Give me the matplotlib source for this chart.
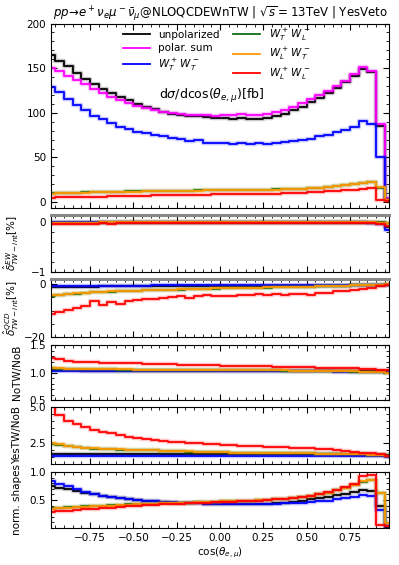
import matplotlib
matplotlib.use('Agg')
import matplotlib.pyplot as plt
import numpy as np
from matplotlib.ticker import AutoMinorLocator, MultipleLocator

# bin centres of cos(theta_e,mu), 40 bins of width 0.05
cos_bins = np.arange(-0.975, 1.0, 0.05)

# --- d sigma / d cos [fb]
xs_unpol = [165, 158, 152, 145, 138, 132, 127, 122, 118, 114, 110, 107, 104, 101, 99, 97, 96, 96, 95, 94,
            94, 93.5, 94, 93.5, 93.5, 94, 96, 99, 103, 107, 112, 117, 122, 128, 134, 141, 149, 145.5, 85, 3]
xs_polsum = [150, 146.5, 141.5, 137, 132, 126.5, 122, 118, 114.5, 111, 108, 105, 103, 101, 99.5, 98.5, 97.5, 97, 97.5, 96.5,
             97.5, 97.5, 98.5, 97.5, 98, 98.5, 100.5, 103, 107, 111, 115, 120, 125, 130, 136, 143.5, 151, 147, 87, 4]
xs_TT = [128.5, 123, 115, 108.5, 103, 96.5, 93, 88.5, 84.5, 81.5, 78.5, 77, 75, 73.5, 72, 70.5, 68.5, 69.5, 66, 66.5,
         66, 65.5, 66.5, 65.5, 66.5, 64.5, 66, 67, 68.5, 69.5, 71, 73.5, 75.5, 78, 81, 84.5, 90.5, 87.5, 51, 2]
xs_TL = [9.8, 10.1, 10.4, 10.6, 10.9, 11.1, 11.3, 11.5, 11.7, 11.9, 12.0, 12.2, 12.3, 12.5, 12.6, 12.7, 12.9, 13.0, 13.1, 13.2,
         13.3, 13.4, 13.5, 13.6, 13.7, 13.9, 14.1, 14.4, 14.8, 15.2, 15.7, 16.3, 17.1, 18.0, 19.1, 20.4, 21.6, 22.0, 16.0, 2.4]
xs_LT = [9.5, 9.8, 10.1, 10.3, 10.6, 10.8, 11.0, 11.2, 11.4, 11.6, 11.8, 12.0, 12.1, 12.3, 12.4, 12.6, 12.7, 12.9, 13.0, 13.1,
         13.2, 13.3, 13.4, 13.5, 13.6, 13.8, 14.0, 14.3, 14.7, 15.1, 15.6, 16.2, 17.0, 17.9, 19.0, 20.3, 21.8, 22.5, 16.5, 2.5]
xs_LL = [4.9, 5.2, 5.4, 5.6, 5.8, 6.0, 6.2, 6.4, 6.6, 6.8, 7.0, 7.2, 7.4, 7.6, 7.8, 8.0, 8.1, 8.3, 8.4, 8.5,
         8.6, 8.7, 8.8, 8.9, 9.0, 9.2, 9.4, 9.7, 10.0, 10.4, 10.8, 11.3, 11.9, 12.5, 13.2, 14.0, 14.9, 15.4, 2.5, 1.0]

# --- EW TW-interference [%]
ew_unpol = [-0.03, -0.03, -0.02, -0.02, -0.02, -0.02, -0.02, -0.02, -0.02, -0.02, -0.02, -0.02, -0.02, -0.02, -0.02, -0.02, -0.02, -0.02, -0.02, -0.02,
            -0.02, -0.02, -0.02, -0.02, -0.02, -0.02, -0.02, -0.02, -0.02, -0.02, -0.02, -0.02, -0.02, -0.02, -0.02, -0.02, -0.02, -0.02, -0.03, -0.10]
ew_TT = [-0.01, -0.01, -0.01, -0.01, -0.01, -0.01, -0.01, -0.01, -0.01, -0.01, -0.01, -0.01, -0.01, -0.01, -0.01, -0.01, -0.01, -0.01, -0.01, -0.01,
         -0.01, -0.01, -0.01, -0.01, -0.01, -0.01, -0.01, -0.01, -0.01, -0.01, -0.01, -0.01, -0.01, -0.01, -0.01, -0.01, -0.01, -0.02, -0.05, -0.16]
ew_TL = [-0.02, -0.02, -0.02, -0.02, -0.02, -0.02, -0.01, -0.01, -0.01, -0.01, -0.01, -0.01, -0.01, -0.01, -0.01, -0.01, -0.01, -0.01, -0.01, -0.01,
         -0.01, -0.01, -0.01, -0.01, -0.01, -0.01, -0.01, -0.01, -0.01, -0.01, -0.01, -0.01, -0.01, -0.01, -0.01, -0.01, -0.01, -0.01, -0.01, -0.02]
ew_LT = [-0.02, -0.02, -0.02, -0.02, -0.02, -0.02, -0.01, -0.01, -0.01, -0.01, -0.01, -0.01, -0.01, -0.01, -0.01, -0.01, -0.01, -0.01, -0.01, -0.01,
         -0.01, -0.01, -0.01, -0.01, -0.01, -0.01, -0.01, -0.01, -0.01, -0.01, -0.01, -0.01, -0.01, -0.01, -0.01, -0.01, -0.01, -0.01, -0.02, -0.03]
ew_LL = [-0.05, -0.05, -0.04, -0.04, -0.04, -0.04, -0.03, -0.05, -0.03, -0.03, -0.03, -0.03, -0.03, -0.03, -0.03, -0.03, -0.03, -0.03, -0.03, -0.03,
         -0.03, -0.03, -0.03, -0.03, -0.03, -0.03, -0.03, -0.03, -0.03, -0.03, -0.03, -0.03, -0.03, -0.03, -0.03, -0.03, -0.03, -0.03, -0.05, -0.08]

# --- QCD TW-interference [%]
qcd_unpol = [-0.9, -0.9, -0.9, -0.9, -0.9, -0.9, -0.8, -0.8, -0.8, -0.8, -0.8, -0.8, -0.8, -0.7, -0.7, -0.7, -0.7, -0.7, -0.7, -0.7,
             -0.7, -0.6, -0.6, -0.6, -0.6, -0.6, -0.6, -0.6, -0.6, -0.5, -0.5, -0.5, -0.5, -0.5, -0.5, -0.4, -0.4, -0.4, -0.3, -0.2]
qcd_TT = [-0.5, -0.5, -0.5, -0.5, -0.5, -0.5, -0.5, -0.5, -0.5, -0.5, -0.5, -0.5, -0.4, -0.4, -0.4, -0.4, -0.4, -0.4, -0.4, -0.4,
          -0.4, -0.4, -0.4, -0.4, -0.4, -0.4, -0.4, -0.3, -0.3, -0.3, -0.3, -0.3, -0.3, -0.3, -0.3, -0.2, -0.2, -0.2, -0.2, -0.1]
qcd_TL = [-4.6, -4.2, -3.8, -3.5, -3.3, -3.1, -2.9, -2.8, -2.6, -2.5, -2.4, -2.3, -2.2, -2.1, -2.0, -2.0, -1.9, -1.8, -1.7, -1.7,
          -1.6, -1.5, -1.5, -1.4, -1.3, -1.3, -1.2, -1.1, -1.0, -1.0, -0.9, -0.8, -0.7, -0.6, -0.5, -0.4, -0.4, -0.3, -0.1, 0.1]
qcd_LT = [-4.2, -3.9, -3.6, -3.4, -3.2, -3.0, -2.8, -2.7, -2.6, -2.5, -2.4, -2.3, -2.2, -2.1, -2.0, -1.9, -1.8, -1.8, -1.7, -1.6,
          -1.6, -1.5, -1.4, -1.4, -1.3, -1.2, -1.2, -1.1, -1.0, -0.9, -0.9, -0.8, -0.7, -0.6, -0.5, -0.4, -0.3, -0.3, -0.1, 0.2]
qcd_LL = [-11.1, -10.4, -9.8, -8.9, -8.3, -6.4, -7.7, -6.7, -7.3, -6.3, -6.0, -5.5, -5.5, -5.3, -5.0, -4.5, -5.3, -4.6, -3.9, -4.5,
          -4.5, -4.4, -3.9, -3.9, -3.8, -3.9, -3.8, -4.2, -3.5, -3.5, -3.9, -3.3, -3.2, -2.7, -2.6, -2.0, -1.9, -1.4, -0.7, -0.4]

# --- NoTW / NoB
notw_unpol = [1.04, 1.04, 1.04, 1.04, 1.035, 1.035, 1.035, 1.035, 1.03, 1.03, 1.03, 1.03, 1.03, 1.03, 1.03, 1.03, 1.03, 1.03, 1.03, 1.03,
              1.03, 1.03, 1.03, 1.03, 1.03, 1.03, 1.03, 1.025, 1.025, 1.025, 1.025, 1.025, 1.025, 1.025, 1.02, 1.02, 1.02, 1.02, 1.02, 1.02]
notw_TT = [1.02, 1.02, 1.02, 1.02, 1.02, 1.02, 1.02, 1.02, 1.02, 1.02, 1.02, 1.02, 1.02, 1.02, 1.02, 1.02, 1.02, 1.02, 1.02, 1.02,
           1.02, 1.02, 1.02, 1.02, 1.02, 1.02, 1.02, 1.02, 1.02, 1.02, 1.02, 1.02, 1.02, 1.015, 1.015, 1.015, 1.015, 1.015, 1.01, 1.01]
notw_TL = [1.075, 1.07, 1.066, 1.064, 1.062, 1.06, 1.058, 1.056, 1.054, 1.053, 1.052, 1.051, 1.05, 1.049, 1.048, 1.047, 1.046, 1.046, 1.045, 1.044,
           1.043, 1.042, 1.041, 1.04, 1.039, 1.038, 1.037, 1.035, 1.033, 1.031, 1.029, 1.027, 1.025, 1.022, 1.019, 1.016, 1.013, 1.009, 1.004, 1.0]
notw_LT = [1.08, 1.075, 1.07, 1.068, 1.066, 1.064, 1.062, 1.06, 1.058, 1.056, 1.055, 1.054, 1.053, 1.052, 1.051, 1.05, 1.05, 1.049, 1.048, 1.047,
           1.046, 1.045, 1.044, 1.043, 1.042, 1.041, 1.04, 1.038, 1.036, 1.034, 1.032, 1.03, 1.028, 1.025, 1.022, 1.019, 1.015, 1.01, 1.005, 1.0]
notw_LL = [1.26, 1.24, 1.21, 1.2, 1.19, 1.185, 1.18, 1.175, 1.17, 1.17, 1.165, 1.16, 1.155, 1.15, 1.15, 1.145, 1.14, 1.14, 1.135, 1.13,
           1.125, 1.12, 1.12, 1.115, 1.11, 1.11, 1.105, 1.1, 1.1, 1.095, 1.095, 1.09, 1.09, 1.085, 1.08, 1.075, 1.07, 1.06, 1.05, 1.04]

# --- YesTW / NoB
yestw_unpol = [1.7, 1.7, 1.7, 1.7, 1.7, 1.7, 1.7, 1.7, 1.7, 1.7, 1.7, 1.69, 1.69, 1.69, 1.69, 1.69, 1.69, 1.69, 1.69, 1.69,
               1.68, 1.68, 1.68, 1.68, 1.68, 1.68, 1.68, 1.68, 1.68, 1.67, 1.67, 1.67, 1.67, 1.67, 1.66, 1.66, 1.66, 1.66, 1.65, 1.64]
yestw_TT = [1.56, 1.56, 1.56, 1.56, 1.56, 1.56, 1.56, 1.56, 1.56, 1.56, 1.56, 1.56, 1.56, 1.56, 1.56, 1.56, 1.56, 1.56, 1.56, 1.56,
            1.56, 1.56, 1.56, 1.56, 1.56, 1.56, 1.56, 1.56, 1.56, 1.56, 1.55, 1.55, 1.55, 1.55, 1.55, 1.55, 1.54, 1.54, 1.53, 1.52]
yestw_TL = [2.42, 2.36, 2.24, 2.17, 2.12, 2.08, 2.05, 2.03, 2.01, 1.99, 1.98, 1.97, 1.95, 1.93, 1.91, 1.89, 1.87, 1.85, 1.83, 1.82,
            1.81, 1.8, 1.79, 1.78, 1.78, 1.77, 1.76, 1.76, 1.75, 1.74, 1.74, 1.73, 1.72, 1.71, 1.7, 1.69, 1.68, 1.66, 1.62, 1.56]
yestw_LT = [2.45, 2.38, 2.26, 2.19, 2.14, 2.1, 2.07, 2.04, 2.02, 2.0, 1.99, 1.98, 1.96, 1.94, 1.92, 1.9, 1.88, 1.86, 1.84, 1.82,
            1.81, 1.8, 1.79, 1.78, 1.78, 1.77, 1.76, 1.76, 1.75, 1.74, 1.74, 1.73, 1.72, 1.71, 1.7, 1.69, 1.68, 1.66, 1.62, 1.56]
yestw_LL = [5.6, 4.44, 4.04, 3.81, 3.58, 3.39, 3.27, 3.15, 3.04, 2.92, 2.85, 2.75, 2.68, 2.64, 2.56, 2.52, 2.49, 2.45, 2.4, 2.37,
            2.35, 2.32, 2.29, 2.27, 2.25, 2.22, 2.2, 2.17, 2.15, 2.12, 2.1, 2.06, 2.02, 1.98, 1.93, 1.87, 1.8, 1.75, 1.67, 1.56]

# --- normalised shapes
norm_unpol = [0.75, 0.72, 0.69, 0.66, 0.63, 0.6, 0.58, 0.555, 0.54, 0.52, 0.5, 0.49, 0.475, 0.46, 0.45, 0.44, 0.44, 0.44, 0.435, 0.43,
              0.43, 0.43, 0.43, 0.43, 0.43, 0.43, 0.44, 0.455, 0.47, 0.49, 0.51, 0.535, 0.56, 0.585, 0.61, 0.645, 0.68, 0.665, 0.39, 0.015]
norm_TT = [0.84, 0.79, 0.75, 0.7, 0.65, 0.61, 0.58, 0.55, 0.54, 0.52, 0.5, 0.49, 0.48, 0.47, 0.46, 0.45, 0.44, 0.45, 0.43, 0.43,
           0.43, 0.43, 0.43, 0.43, 0.43, 0.42, 0.43, 0.44, 0.45, 0.45, 0.46, 0.48, 0.49, 0.51, 0.53, 0.55, 0.59, 0.57, 0.33, 0.03]
norm_TL = [0.35, 0.36, 0.37, 0.38, 0.385, 0.395, 0.4, 0.405, 0.41, 0.42, 0.425, 0.43, 0.435, 0.44, 0.445, 0.45, 0.455, 0.46, 0.465, 0.47,
           0.475, 0.48, 0.485, 0.49, 0.495, 0.5, 0.51, 0.52, 0.535, 0.55, 0.57, 0.6, 0.63, 0.67, 0.71, 0.76, 0.83, 0.85, 0.62, 0.09]
norm_LT = [0.34, 0.35, 0.36, 0.37, 0.38, 0.39, 0.395, 0.4, 0.41, 0.415, 0.42, 0.43, 0.435, 0.44, 0.445, 0.45, 0.455, 0.46, 0.465, 0.47,
           0.475, 0.48, 0.485, 0.49, 0.495, 0.5, 0.51, 0.52, 0.535, 0.55, 0.57, 0.6, 0.63, 0.67, 0.71, 0.76, 0.84, 0.86, 0.63, 0.09]
norm_LL = [0.29, 0.3, 0.31, 0.32, 0.335, 0.345, 0.355, 0.365, 0.375, 0.385, 0.395, 0.405, 0.41, 0.42, 0.425, 0.43, 0.44, 0.445, 0.45, 0.46,
           0.465, 0.47, 0.475, 0.48, 0.49, 0.5, 0.51, 0.525, 0.54, 0.56, 0.58, 0.61, 0.64, 0.68, 0.73, 0.79, 0.93, 0.94, 0.06, 0.03]

labels = ['unpolarized', 'polar. sum', r'$W^+_T\,W^-_T$', r'$W^+_T\,W^-_L$', r'$W^+_L\,W^-_T$', r'$W^+_L\,W^-_L$']
colors = ['black', '#ff00ff', '#0000ff', '#107010', '#ff9a00', '#ff0000']

panels = [
    [xs_unpol, xs_polsum, xs_TT, xs_TL, xs_LT, xs_LL],
    [ew_unpol, None, ew_TT, ew_TL, ew_LT, ew_LL],
    [qcd_unpol, None, qcd_TT, qcd_TL, qcd_LT, qcd_LL],
    [notw_unpol, None, notw_TT, notw_TL, notw_LT, notw_LL],
    [yestw_unpol, None, yestw_TT, yestw_TL, yestw_LT, yestw_LL],
    [norm_unpol, None, norm_TT, norm_TL, norm_LT, norm_LL],
]

plt.rcParams['font.size'] = 7
plt.rcParams['mathtext.fontset'] = 'dejavusans'

fig = plt.figure(figsize=(3.99, 5.65), dpi=100)
boxes = [
    [0.1278, 0.6313, 0.847, 0.3270],
    [0.1278, 0.5186, 0.847, 0.1009],
    [0.1278, 0.4035, 0.847, 0.1027],
    [0.1278, 0.2920, 0.847, 0.0973],
    [0.1278, 0.1788, 0.847, 0.1009],
    [0.1278, 0.0655, 0.847, 0.0991],
]
axes = [fig.add_axes(b) for b in boxes]

for ax, series in zip(axes, panels):
    for vals, lab, col in zip(series, labels, colors):
        if vals is None:
            continue
        # faint halo under each line, like the error band in the original
        ax.step(cos_bins, vals, where='mid', color=col, lw=3.2, alpha=0.22)
        ax.step(cos_bins, vals, where='mid', color=col, lw=1.3, label=lab)
    ax.set_xlim(-0.975, 0.975)
    ax.xaxis.set_major_locator(MultipleLocator(0.25))
    ax.xaxis.set_minor_locator(MultipleLocator(0.05))
    ax.yaxis.set_minor_locator(AutoMinorLocator())
    ax.tick_params(which='both', direction='in', top=True, right=True, labelsize=7.5)
    ax.tick_params(which='major', length=4)
    ax.tick_params(which='minor', length=2)
    if ax is not axes[-1]:
        ax.tick_params(labelbottom=False)

# main panel
ax = axes[0]
ax.set_ylim(-7, 200)
ax.set_yticks([0, 50, 100, 150, 200])
ax.yaxis.set_minor_locator(MultipleLocator(10))
ax.set_title(r'$pp\!\rightarrow\! e^+\nu_e\mu^-\bar{\nu}_\mu$@NLOQCDEWnTW | $\sqrt{s}=13$TeV | YesVeto',
             fontsize=8.5, pad=3)
ax.legend(ncol=2, frameon=False, fontsize=7.5, loc='upper center', bbox_to_anchor=(0.49, 1.035),
          handlelength=2.6, columnspacing=1.3, labelspacing=0.35)
ax.text(0.475, 0.61, r'd$\sigma$/dcos($\theta_{e,\mu}$)[fb]', transform=ax.transAxes,
        ha='center', va='center', fontsize=9)

# EW interference
ax = axes[1]
ax.set_ylim(-1, 0.13)
ax.set_yticks([-1, 0])
ax.yaxis.set_minor_locator(MultipleLocator(0.2))
ax.set_ylabel(r'$\hat{\delta}^{EW}_{TW-int}$[%]', fontsize=7.5)

# QCD interference
ax = axes[2]
ax.set_ylim(-20, 2)
ax.set_yticks([-20, 0])
ax.yaxis.set_minor_locator(MultipleLocator(5))
ax.set_ylabel(r'$\hat{\delta}^{QCD}_{TW-int}$[%]', fontsize=7.5)

for ax in axes[1:3]:
    ax.spines['top'].set_color('#888888')
    ax.spines['top'].set_linewidth(2.2)
    ax.yaxis.set_label_coords(-0.088, 0.5)

ax = axes[3]
ax.set_ylim(0.5, 1.5)
ax.set_yticks([0.5, 1.0, 1.5])
ax.set_ylabel('NoTW/NoB', fontsize=7.5)

ax = axes[4]
ax.set_ylim(1.0, 5.0)
ax.set_yticks([2.5, 5.0])
ax.yaxis.set_minor_locator(MultipleLocator(0.5))
ax.set_ylabel('YesTW/NoB', fontsize=7.5)

ax = axes[5]
ax.set_ylim(0.0, 1.0)
ax.set_yticks([0.5, 1.0])
ax.yaxis.set_minor_locator(MultipleLocator(0.1))
ax.set_ylabel('norm. shapes', fontsize=7.5)
ax.set_xlabel(r'cos($\theta_{e,\mu}$)', fontsize=7.5, labelpad=2)

for ax in axes[3:]:
    ax.yaxis.set_label_coords(-0.087, 0.5)

plt.savefig('out.png', dpi=100)
